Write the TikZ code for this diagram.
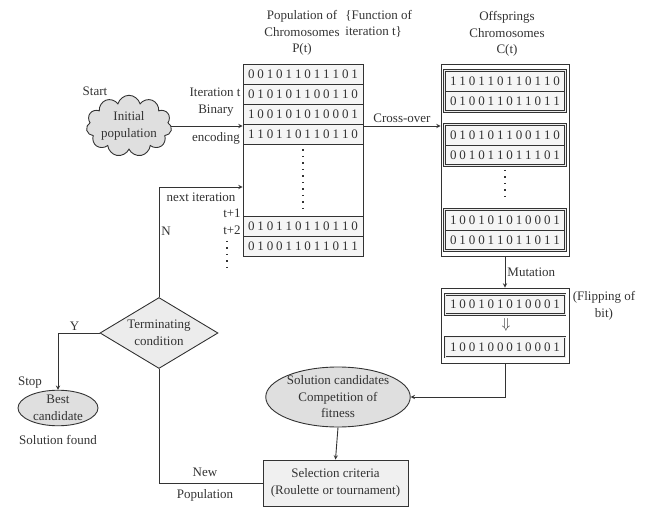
\documentclass[tikz,border=0pt]{standalone}
\usepackage{fontspec}
\setmainfont{Liberation Serif}
\usetikzlibrary{shapes.geometric,shapes.symbols,fit}

% a chromosome: every bit in a box of its own width
\newcommand\bitstr[1]{\edef\tmpbits{#1}\expandafter\bitloop\tmpbits\relax}
\def\bitloop#1{\ifx#1\relax\else\makebox[9.4pt]{#1}\expandafter\bitloop\fi}

\begin{document}
\begin{tikzpicture}[>=stealth, x=1pt, y=-1pt, line width=0.9pt, color=black!80,
font=\fontsize{13}{16.5}\selectfont]

\tikzset{%
frame/.style={draw, inner sep=0pt},
chrom/.style={
draw,
fill=gray!8,
minimum width=120pt,
minimum height=20pt,
inner sep=0pt,
font=\fontsize{13}{16}\selectfont
},
group/.style={draw, double=gray!15, double distance=0.9pt, inner sep=0pt},
blob/.style={ellipse, draw, fill=gray!25, inner sep=0pt, align=center},
lbl/.style={inner sep=0pt, align=center},
dots/.style={line width=1.5pt, dash pattern=on 1.5pt off 5pt},
}

\useasboundingbox (0,0) rectangle (651,508);

% Population of chromosomes P(t)
\node[lbl] (phead) at (302,33) {Population of\\Chromosomes\\P(t)};
\node[lbl, align=left, anchor=west] (fhead) at (345,24) {\{Function of\\iteration t\}};
\node[frame, minimum width=120pt, minimum height=192pt] (pbox) at (303,160) {};
\foreach \bits [count=\i] in {001011011101,010101100110,100101010001,110110110110}
\node[chrom] (p-\i) at (303,54+20*\i) {\bitstr{\bits}};
\foreach \bits [count=\i from 5] in {010110110110,010011011011}
\node[chrom] (p-\i) at (303,126+20*\i) {\bitstr{\bits}};
\draw[dots] (p-4.south) ++(0,5) -- ++(0,60);

% Offsprings C(t)
\node[lbl] (chead) at (507,34) {Offsprings\\Chromosomes\\C(t)};
\node[frame, minimum width=128pt, minimum height=192pt] (cbox) at (505,160) {};
\foreach \y/\up/\lo [count=\g] in {91/110110110110/010011011011,
145/010101100110/001011011101, 230/100101010001/010011011011} {
\node[chrom] (c-\g-a) at (505,\y-10) {\bitstr{\up}};
\node[chrom] (c-\g-b) at (505,\y+10) {\bitstr{\lo}};
\node[group, fit=(c-\g-a)(c-\g-b)] (g-\g) {};
}
\draw[dots] (g-2.south) ++(0,4) -- ++(0,32);

% Mutation
\node[frame, minimum width=128pt, minimum height=75pt] (mbox) at (505,325.5) {};
\node[chrom, group] (m-1) at (505,304.5) {\bitstr{100101010001}};
\node[chrom, group] (m-2) at (505,347) {\bitstr{100100010001}};
\node[lbl, font=\Large] (flip) at (506,325) {$\Downarrow$};
\node[lbl] (fliptxt) at (604,306) {(Flipping of\\bit)};

% Start, selection, termination
\node[cloud, cloud puffs=11, aspect=1.7, draw, fill=gray!25, inner sep=0pt,
minimum width=84pt, minimum height=54pt, align=center] (init) at (129,126)
{Initial\\population};
\node[blob, minimum width=134pt, minimum height=60pt] (sol) at (338,397)
{Solution candidates\\Competition of\\fitness};
\node[draw, fill=gray!12, minimum width=145pt, minimum height=46pt, align=center]
(sel) at (335.5,483) {Selection criteria\\(Roulette or tournament)};
\node[diamond, draw, fill=gray!15, aspect=1.66, inner sep=0pt,
minimum width=118pt, minimum height=71pt, align=center] (term) at (159,333)
{Terminating\\condition};
\node[blob, minimum width=80pt, minimum height=35pt] (best) at (58,408)
{Best\\candidate};

% side labels
\node[lbl] (start) at (95,91) {Start};
\node[lbl, anchor=east] (iter) at (241,92) {Iteration t};
\node[lbl] (bin) at (216,111) {Binary};
\node[lbl] (enc) at (216,138) {encoding};
\node[lbl] (next) at (201,197) {next iteration};
\node[lbl] (t1) at (232,213) {t+1};
\node[lbl] (t2) at (232,230) {t+2};
\node[lbl] (n) at (166,231) {N};
\draw[dots] (t2.south) ++(-5,6) -- ++(0,28);
\node[lbl] (stop) at (30,383) {Stop};
\node[lbl] (found) at (58,440) {Solution found};
\node[lbl] (new) at (205,472) {New};
\node[lbl] (newpop) at (205,495) {Population};

% connectors
\draw[->] (init.east) -- (init.east -| pbox.west);
\draw[->] (init.east -| pbox.east) -- (init.east -| cbox.west)
node[midway, above=3pt, inner sep=0pt] {Cross-over};
\draw[->] (cbox.south) -- (mbox.north) node[midway, right=2pt, inner sep=0pt] {Mutation};
\draw[->] (mbox.south) |- (sol.east);
\draw[->] (sol.south) -- (sel.north);
\draw (sel.west) -| (term.south);
\draw[->] (term.north) |- ([yshift=-27pt]pbox.west);
\draw[->] (term.west) -| (best.north) node[pos=0.3, above=2pt, inner sep=0pt] {Y};

\end{tikzpicture}
\end{document}
